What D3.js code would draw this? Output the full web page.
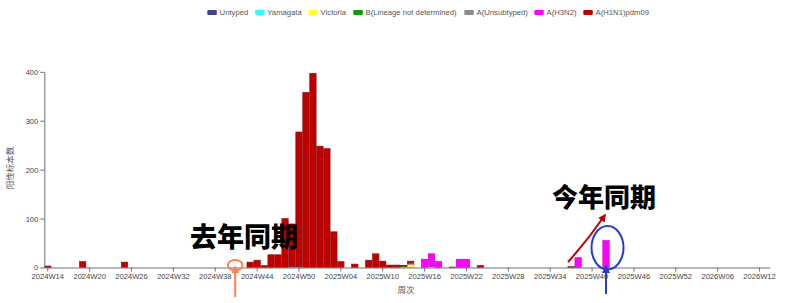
<!DOCTYPE html>
<html><head><meta charset="utf-8">
<script src="https://cdn.jsdelivr.net/npm/d3@7/dist/d3.min.js"></script>
<style>
html,body{margin:0;padding:0;background:#fff;}
svg{display:block;}
</style></head>
<body>
<svg id="chart" width="785" height="303"></svg>
<script>
// ---- categories ----
const weeks = [];
for (let yr = 2024, wk = 14; weeks.length < 104;) {
  weeks.push(yr + "W" + String(wk).padStart(2, "0"));
  wk++; if (wk > 52) { wk = 1; yr++; }
}
const tickLabels = ["2024W14","2024W20","2024W26","2024W32","2024W38","2024W44","2024W50",
  "2025W04","2025W10","2025W16","2025W22","2025W28","2025W34","2025W40","2025W46","2025W52",
  "2026W06","2026W12"];
const yTicks = [0, 100, 200, 300, 400];

// ---- series (week, count) ----
const seriesNames = ["Untyped","Yamagata","Victoria","B(Lineage not determined)","A(Unsubtyped)","A(H3N2)","A(H1N1)pdm09"];
const seriesColors = ["#3f3f94","#33ffff","#ffff33","#00a000","#8c8c8c","#ff00ff","#c00000"];
const untyped = [];
const yamagata = [];
const victoria = [["2025W13",2],["2025W14",7],["2025W17",2]];
const bLineage = [["2025W13",1]];
const unsubtyped = [["2024W49",2],["2024W50",2],["2025W11",1],["2025W12",1]];
const h3n2 = [["2025W14",3],["2025W16",17],["2025W17",26],["2025W18",12],["2025W21",17],["2025W22",17],
  ["2025W38",20],["2025W42",55]];
const h1n1 = [["2024W14",3],["2024W19",12],["2024W25",11],["2024W43",11],["2024W44",15],["2024W45",4],
  ["2024W46",26],["2024W47",26],["2024W48",100],["2024W49",87],["2024W50",275],["2024W51",358],
  ["2024W52",397],["2025W01",248],["2025W02",243],["2025W03",73],["2025W04",12],["2025W06",7],
  ["2025W08",15],["2025W09",28],["2025W10",13],["2025W11",4],["2025W12",4],["2025W13",1],
  ["2025W14",3],["2025W20",1],["2025W24",4],["2025W37",2]];
const seriesData = [untyped, yamagata, victoria, bLineage, unsubtyped, h3n2, h1n1];

// ---- table ----
const table = weeks.map(w => {
  const row = { week: w };
  seriesNames.forEach((n, i) => {
    const f = seriesData[i].find(p => p[0] === w);
    row[n] = f ? f[1] : 0;
  });
  return row;
});

const svg = d3.select("#chart");
const x = d3.scaleBand().domain(weeks).range([44.3, 770]).padding(0);
const y = d3.scaleLinear().domain([0, 400]).range([267.5, 71.8]);

const stacked = d3.stack().keys(seriesNames)(table);
const strokeColors = ["#2a2a70","#20c0c0","#c0c000","#007000","#666","#c000c0","#8a1010"];

svg.append("g").selectAll("g").data(stacked).join("g")
  .attr("fill", (d, i) => seriesColors[i])
  .attr("stroke", (d, i) => strokeColors[i])
  .attr("stroke-width", 0.6)
  .selectAll("rect").data(d => d.filter(s => s[1] - s[0] > 0)).join("rect")
  .attr("x", d => x(d.data.week) + 0.3)
  .attr("width", x.bandwidth() - 0.6)
  .attr("y", d => y(d[1]))
  .attr("height", d => y(d[0]) - y(d[1]));

// ---- axes ----
const axisColor = "#6e7079";
const gx = svg.append("g").attr("transform", `translate(0,${y(0)})`)
  .call(d3.axisBottom(x).tickValues(tickLabels).tickSize(4).tickSizeOuter(0).tickPadding(2));
gx.select(".domain").attr("stroke", axisColor);
gx.selectAll(".tick line").attr("stroke", axisColor);
gx.selectAll(".tick text").attr("fill", "#444").attr("font-size", "7.6px")
  .attr("font-family", "'Liberation Sans', Arial, sans-serif");

const gy = svg.append("g").attr("transform", `translate(44.3,0)`)
  .call(d3.axisLeft(y).tickValues(yTicks).tickSize(4).tickSizeOuter(0).tickPadding(2));
gy.select(".domain").attr("stroke", axisColor);
gy.selectAll(".tick line").attr("stroke", axisColor);
gy.selectAll(".tick text").attr("fill", "#444").attr("font-size", "7.6px")
  .attr("font-family", "'Liberation Sans', Arial, sans-serif");

svg.append("text").attr("transform", "translate(13,168) rotate(-90)")
  .attr("text-anchor", "middle").attr("font-size", "8.5px").attr("fill", "#555")
  .attr("font-family", "'Noto Sans CJK SC', sans-serif").text("阳性标本数");
svg.append("text").attr("x", 406).attr("y", 293)
  .attr("text-anchor", "middle").attr("font-size", "8.5px").attr("fill", "#555")
  .attr("font-family", "'Noto Sans CJK SC', sans-serif").text("周次");

// ---- legend ----
const legendX = [207.3, 255, 308.3, 353.3, 464.3, 534.3, 583.3];
const lg = svg.append("g");
seriesNames.forEach((n, i) => {
  lg.append("rect").attr("x", legendX[i]).attr("y", 10).attr("width", 9.5).attr("height", 5)
    .attr("rx", 1).attr("fill", seriesColors[i]);
  lg.append("text").attr("x", legendX[i] + 12.3).attr("y", 15.3)
    .attr("font-size", "7.7px").attr("fill", "#555")
    .attr("font-family", "'Liberation Sans', Arial, sans-serif").text(n);
});

// ---- annotations ----
const defs = svg.append("defs");
function marker(id, color) {
  defs.append("marker").attr("id", id).attr("viewBox", "0 0 10 10").attr("refX", 8).attr("refY", 5)
    .attr("markerWidth", 4).attr("markerHeight", 4).attr("orient", "auto")
    .append("path").attr("d", "M0,0 L10,5 L0,10 Z").attr("fill", color);
}
marker("mOrange", "#ff7f50");
marker("mBlue", "#1f3fc8");
marker("mRed", "#c00000");

const cx1 = x("2024W41") + x.bandwidth() / 2 - 1;
svg.append("ellipse").attr("cx", cx1).attr("cy", y(0) - 2.3).attr("rx", 7.3).attr("ry", 5.3)
  .attr("fill", "none").attr("stroke", "#ff7f50").attr("stroke-width", 2);
svg.append("line").attr("x1", cx1).attr("x2", cx1).attr("y1", 297).attr("y2", y(0) - 0.5)
  .attr("stroke", "#ff7f50").attr("stroke-width", 2).attr("marker-end", "url(#mOrange)");

const cx2 = x("2025W42") + x.bandwidth() / 2 + 1.5;
svg.append("ellipse").attr("cx", cx2).attr("cy", 247.7).attr("rx", 16).attr("ry", 21.7)
  .attr("fill", "none").attr("stroke", "#1f3fc8").attr("stroke-width", 2);
svg.append("line").attr("x1", cx2 - 1.5).attr("x2", cx2 - 1.5).attr("y1", 294).attr("y2", y(0) - 1)
  .attr("stroke", "#1f3fc8").attr("stroke-width", 2).attr("marker-end", "url(#mBlue)");

svg.append("path").attr("d", "M568,262 Q588,240 605,215").attr("fill", "none")
  .attr("stroke", "#c00000").attr("stroke-width", 2).attr("marker-end", "url(#mRed)");

svg.append("text").attr("x", 190).attr("y", 247).attr("font-size", "27px").attr("font-weight", 900)
  .attr("font-family", "'Noto Sans CJK SC', sans-serif").attr("fill", "#000").text("去年同期");
svg.append("text").attr("x", 552).attr("y", 207).attr("font-size", "26px").attr("font-weight", 900)
  .attr("font-family", "'Noto Sans CJK SC', sans-serif").attr("fill", "#000").text("今年同期");
</script>
</body></html>
